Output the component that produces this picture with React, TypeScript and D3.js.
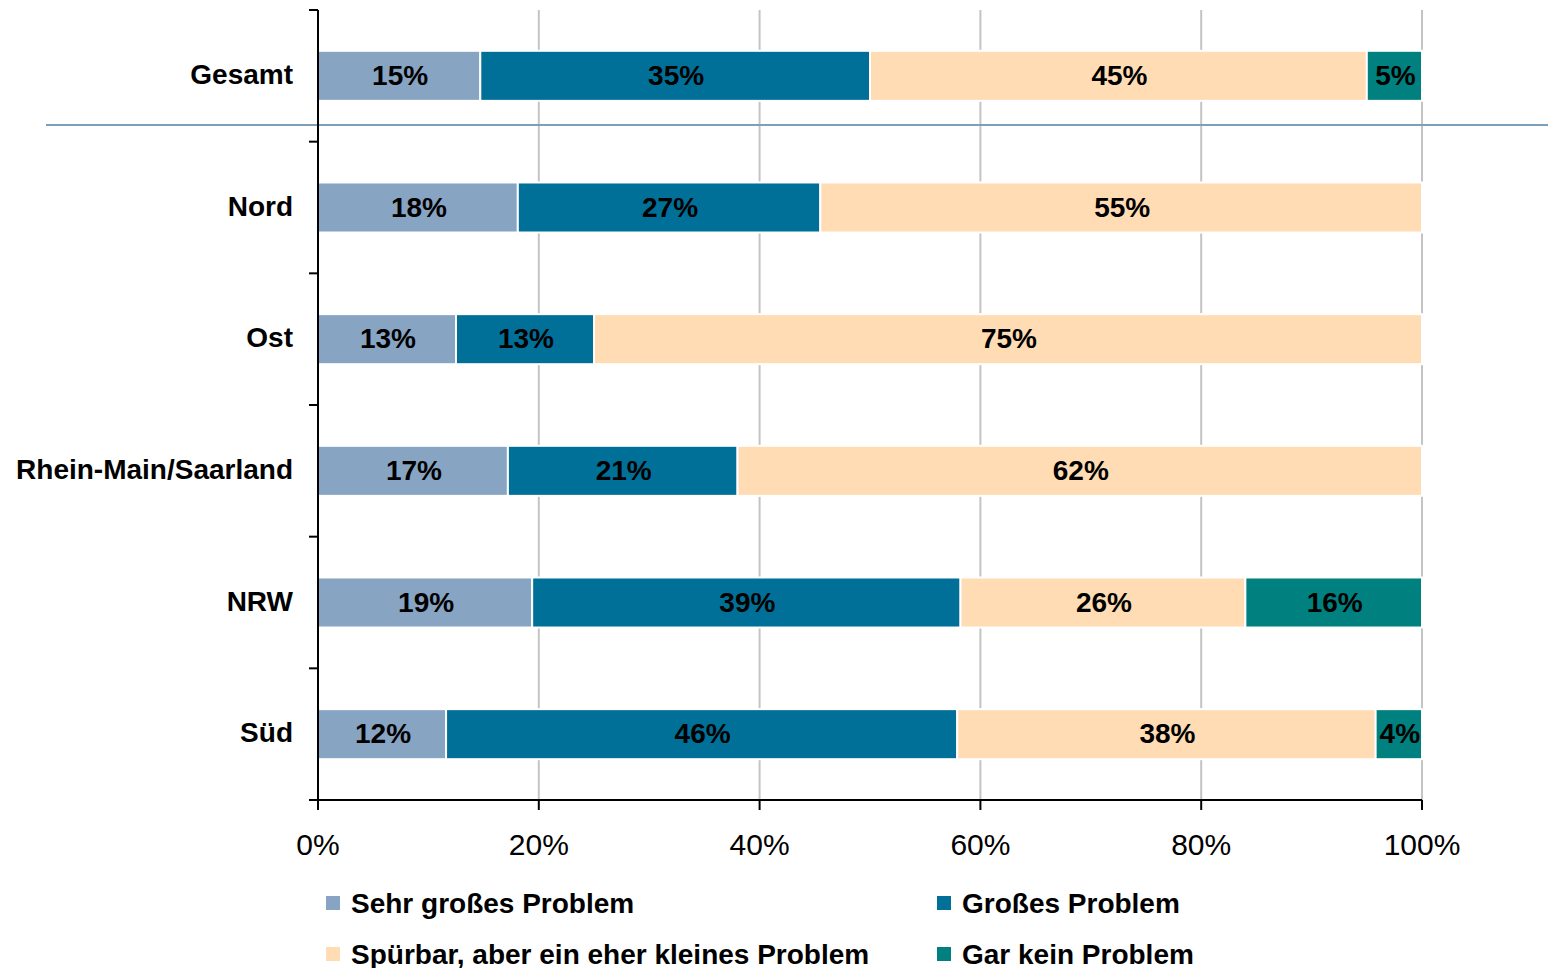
import React from "react";
import * as d3 from "d3";

const categories = ["Gesamt", "Nord", "Ost", "Rhein-Main/Saarland", "NRW", "Süd"];
const seriesNames = [
  "Sehr großes Problem",
  "Großes Problem",
  "Spürbar, aber ein eher kleines Problem",
  "Gar kein Problem",
];
const sehrGross = [14.7, 18.1, 12.5, 17.2, 19.4, 11.6];
const gross = [35.3, 27.4, 12.5, 20.8, 38.8, 46.3];
const spuerbar = [45.0, 54.5, 75.0, 62.0, 25.8, 37.9];
const garKein = [5.0, 0, 0, 0, 16.0, 4.2];
const xTicks = [0, 20, 40, 60, 80, 100];
const colors = ["#88A4C3", "#007098", "#FFDCB4", "#00807E"];

export default function App() {
  const W = 1548, H = 968;
  const left = 318, right = 1422, top = 10, bottom = 800;
  const x = d3.scaleLinear().domain([0, 100]).range([left, right]);
  const y = d3.scaleBand().domain(categories).range([top, bottom]).paddingInner(0.62).paddingOuter(0.31);
  const series = [sehrGross, gross, spuerbar, garKein];
  const rows = categories.map((c, i) => {
    const o: any = { cat: c };
    series.forEach((s, j) => (o["s" + j] = s[i]));
    return o;
  });
  const stack = d3.stack().keys(["s0", "s1", "s2", "s3"])(rows as any);
  const font = "'Liberation Sans', Arial, sans-serif";
  const bandStep = (bottom - top) / categories.length;
  const tickYs = d3.range(categories.length + 1).map((i) => top + i * bandStep);

  const legendItems = [
    { i: 0, x: 326, y: 903 },
    { i: 1, x: 937, y: 903 },
    { i: 2, x: 326, y: 954 },
    { i: 3, x: 937, y: 954 },
  ];

  return (
    <svg width={W} height={H} style={{ position: "absolute", left: 0, top: 0, background: "#fff" }} fontFamily={font}>
      {xTicks.slice(1).map((t) => (
        <line key={"g" + t} x1={x(t)} x2={x(t)} y1={top} y2={bottom} stroke="#C4C4C4" strokeWidth={2} />
      ))}
      {stack.map((layer, j) =>
        layer.map((d, i) => {
          const w = x(d[1]) - x(d[0]);
          if (w <= 0) return null;
          return (
            <rect
              key={j + "-" + i}
              x={x(d[0])}
              y={y(categories[i])!}
              width={w}
              height={y.bandwidth()}
              fill={colors[j]}
              stroke="#fff"
              strokeWidth={2}
            />
          );
        })
      )}
      {stack.map((layer, j) =>
        layer.map((d, i) => {
          const v = d[1] - d[0];
          if (v <= 0) return null;
          return (
            <text
              key={"l" + j + "-" + i}
              x={(x(d[0]) + x(d[1])) / 2 + 1}
              y={y(categories[i])! + y.bandwidth() / 2 - 1}
              dy="0.36em"
              textAnchor="middle"
              fontSize={28}
              fontWeight="bold"
              fill="#000"
            >
              {Math.round(v) + "%"}
            </text>
          );
        })
      )}
      <line x1={46} x2={W} y1={125} y2={125} stroke="#7F9FB8" strokeWidth={2} />
      <line x1={left} x2={left} y1={top} y2={bottom} stroke="#000" strokeWidth={2} />
      {tickYs.map((ty, i) => (
        <line key={"yt" + i} x1={left - 9} x2={left} y1={ty} y2={ty} stroke="#000" strokeWidth={2} />
      ))}
      <line x1={left - 9} x2={right} y1={bottom} y2={bottom} stroke="#000" strokeWidth={2} />
      {xTicks.map((t) => (
        <g key={"xt" + t}>
          <line x1={x(t)} x2={x(t)} y1={bottom} y2={bottom + 10} stroke="#000" strokeWidth={2} />
          <text x={x(t)} y={bottom + 55} textAnchor="middle" fontSize={30} fill="#000">
            {t + "%"}
          </text>
        </g>
      ))}
      {categories.map((c) => (
        <text
          key={"c" + c}
          x={293}
          y={y(c)! + y.bandwidth() / 2 - 2}
          dy="0.36em"
          textAnchor="end"
          fontSize={28}
          fontWeight="bold"
          fill="#000"
        >
          {c}
        </text>
      ))}
      {legendItems.map((li) => (
        <g key={"lg" + li.i}>
          <rect x={li.x} y={li.y - 7} width={14} height={14} fill={colors[li.i]} />
          <text x={li.x + 25} y={li.y} dy="0.36em" fontSize={28} fontWeight="bold" fill="#000">
            {seriesNames[li.i]}
          </text>
        </g>
      ))}
    </svg>
  );
}
